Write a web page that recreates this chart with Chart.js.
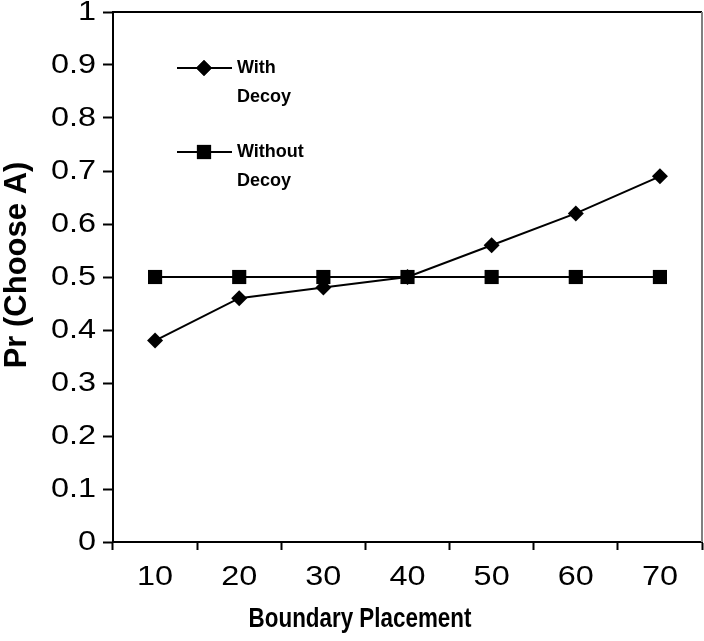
<!DOCTYPE html>
<html lang="en">
<head>
    <meta charset="UTF-8">
    <title>Pr (Choose A) vs Boundary Placement</title>
    <script src="https://cdn.jsdelivr.net/npm/chart.js@4.4.1/dist/chart.umd.min.js"></script>
    <style>
        html, body { margin: 0; padding: 0; background: #fff; }
    </style>
</head>
<body>
<canvas id="myChart" width="704" height="641"></canvas>
<script>

    const xValues = ["10", "20", "30", "40", "50", "60", "70"];
    const withDecoy = [0.38, 0.46, 0.48, 0.50, 0.56, 0.62, 0.69];
    const withoutDecoy = [0.50, 0.50, 0.50, 0.50, 0.50, 0.50, 0.50];
    const seriesNames = [["With", "Decoy"], ["Without", "Decoy"]];
    const xTitle = "Boundary Placement";
    const yTitle = "Pr (Choose A)";

    const FONT = "'Liberation Sans', Arial, sans-serif";

    // the old spreadsheet text is stretched sideways, so draw it scaled
    function stretchText(ctx, text, x, y, sx, align) {
        ctx.save();
        ctx.translate(x, y);
        ctx.scale(sx, 1);
        ctx.textAlign = align;
        ctx.fillText(text, 0, 0);
        ctx.restore();
    }

    const framePlugin = {
        id: "frame",
        afterDraw(chart) {
            const ctx = chart.ctx;
            const a = chart.chartArea;
            const xs = chart.scales.x;
            const ys = chart.scales.y;
            ctx.save();

            // top + right frame
            ctx.lineWidth = 2;
            ctx.strokeStyle = "#000";
            ctx.beginPath();
            ctx.moveTo(a.left, a.top);
            ctx.lineTo(a.right, a.top);
            ctx.stroke();
            ctx.strokeStyle = "#808080";
            ctx.beginPath();
            ctx.moveTo(a.right, a.top);
            ctx.lineTo(a.right, a.bottom);
            ctx.stroke();

            // tick labels
            ctx.fillStyle = "#000";
            ctx.textBaseline = "middle";
            ctx.font = "27px " + FONT;
            ys.ticks.forEach(t => {
                const lbl = String(Math.round(t.value * 10) / 10);
                stretchText(ctx, lbl, a.left - 17, ys.getPixelForValue(t.value) + 1, 1.2, "right");
            });
            chart.data.labels.forEach((lbl, i) => {
                stretchText(ctx, lbl, xs.getPixelForValue(i), a.bottom + 36, 1.2, "center");
            });

            // axis titles
            ctx.font = "bold 28px " + FONT;
            stretchText(ctx, xTitle, chart.width / 2 + 8, a.bottom + 77, 0.8, "center");
            ctx.font = "bold 31px " + FONT;
            ctx.save();
            ctx.translate(17, (a.top + a.bottom) / 2 - 12);
            ctx.rotate(-Math.PI / 2);
            ctx.textAlign = "center";
            ctx.fillText(yTitle, 0, 0);
            ctx.restore();

            // legend
            const styles = ["rectRot", "rect"];
            const radii = [8, 10];
            ctx.font = "bold 18px " + FONT;
            for (let i = 0; i < 2; i++) {
                const y = a.top + 56 + i * 84;
                const x0 = a.left + 64;
                ctx.strokeStyle = "#000";
                ctx.lineWidth = 2;
                ctx.beginPath();
                ctx.moveTo(x0, y);
                ctx.lineTo(x0 + 55, y);
                ctx.stroke();
                Chart.helpers.drawPoint(ctx, {pointStyle: styles[i], radius: radii[i], borderWidth: 0}, x0 + 27, y);
                ctx.fill();
                stretchText(ctx, seriesNames[i][0], x0 + 60, y, 1.0, "left");
                stretchText(ctx, seriesNames[i][1], x0 + 60, y + 29, 1.0, "left");
            }
            ctx.restore();
        }
    };

    const myChart = new Chart("myChart", {
        type: "line",
        data: {
            labels: xValues,
            datasets: [{
                label: "With Decoy",
                data: withDecoy,
                borderColor: "#000",
                backgroundColor: "#000",
                borderWidth: 2,
                pointStyle: "rectRot",
                pointRadius: 8,
                pointBorderWidth: 0,
                tension: 0
            }, {
                label: "Without Decoy",
                data: withoutDecoy,
                borderColor: "#000",
                backgroundColor: "#000",
                borderWidth: 2,
                pointStyle: "rect",
                pointRadius: 10,
                pointBorderWidth: 0,
                tension: 0
            }]
        },
        options: {
            responsive: false,
            animation: false,
            layout: { autoPadding: false, padding: { top: 12, right: 2, left: 0, bottom: 0 } },
            plugins: {
                legend: { display: false },
                tooltip: { enabled: false }
            },
            scales: {
                x: {
                    offset: true,
                    grid: { offset: true, drawOnChartArea: false, color: "#000", tickLength: 8, tickWidth: 2 },
                    border: { color: "#000", width: 2 },
                    ticks: { display: false },
                    afterFit(scale) { scale.height = 99; }
                },
                y: {
                    min: 0,
                    max: 1,
                    ticks: { stepSize: 0.1, display: false },
                    grid: { drawOnChartArea: false, color: "#000", tickLength: 10, tickWidth: 2 },
                    border: { color: "#000", width: 2 },
                    afterFit(scale) { scale.width = 113; }
                }
            }
        },
        plugins: [framePlugin]
    });
</script>
</body>
</html>
